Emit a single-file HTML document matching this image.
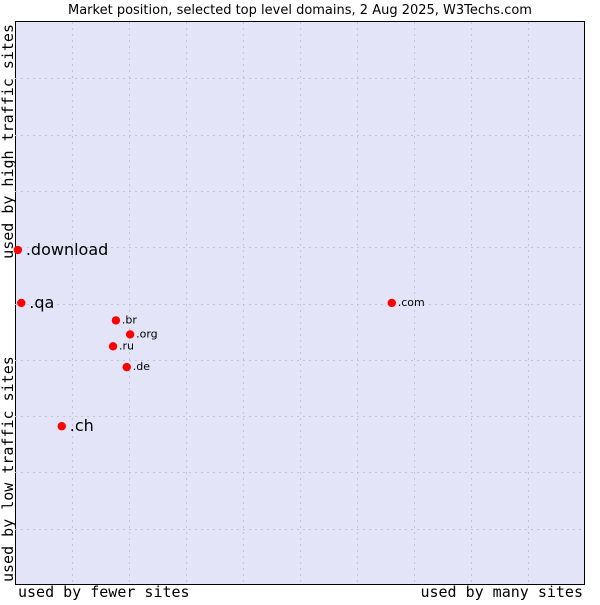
<!DOCTYPE html>
<html><head><meta charset="utf-8"><style>
body{margin:0;background:#fff;width:600px;height:600px;overflow:hidden}
svg text{font-family:"DejaVu Sans","Liberation Sans",sans-serif}
.mono{font-family:"DejaVu Sans Mono","Liberation Mono",monospace}
</style></head><body>
<svg id="chart" width="600" height="600" xmlns="http://www.w3.org/2000/svg">
<text x="300" y="14" font-size="13" text-anchor="middle" fill="#000">Market position, selected top level domains, 2 Aug 2025, W3Techs.com</text>
<rect x="15.5" y="21.5" width="569" height="563" fill="#e3e4f8" stroke="#000" stroke-width="1"/>
<g id="grid"></g>
<g id="points"></g>
<text class="mono" x="18" y="597" font-size="15">used by fewer sites</text>
<text class="mono" x="583" y="597" font-size="15" text-anchor="end">used by many sites</text>
<text class="mono" transform="translate(13,24) rotate(-90)" font-size="15" text-anchor="end">used by high traffic sites</text>
<text class="mono" transform="translate(13,582) rotate(-90)" font-size="15">used by low traffic sites</text>
</svg>
<script>
const domains = [".download", ".qa", ".ch", ".br", ".org", ".ru", ".de", ".com"];
const xValues = [0.5, 1.1, 8.2, 17.7, 20.2, 17.2, 19.6, 66.1];
const yValues = [59.5, 50.1, 28.2, 47.0, 44.5, 42.4, 38.7, 50.1];
const bigLabel = [true, true, true, false, false, false, false, false];
const gridSteps = [1,2,3,4,5,6,7,8,9];
const L=15, T=22, W=570, H=563;
const xs = v => L + v/100*W;
const ys = v => T + H - v/100*H;
const NS="http://www.w3.org/2000/svg";
const grid=document.getElementById('grid');
gridSteps.forEach(s=>{
  const v=document.createElementNS(NS,'line');
  
  
  const x=Math.round(xs(s*10))+0.5;
  v.setAttribute('x1',x);v.setAttribute('x2',x);v.setAttribute('y1',T);v.setAttribute('y2',T+H);
  v.setAttribute('stroke','#c4c4cc');v.setAttribute('stroke-dasharray','2,4');
  grid.appendChild(v);
  const h=document.createElementNS(NS,'line');
  
  
  const y=Math.round(ys(s*10))+0.5;
  h.setAttribute('x1',L);h.setAttribute('x2',L+W);h.setAttribute('y1',y);h.setAttribute('y2',y);
  h.setAttribute('stroke','#c4c4cc');h.setAttribute('stroke-dasharray','2,4');
  grid.appendChild(h);
});
const pts=document.getElementById('points');
domains.forEach((d,i)=>{
  const x=xs(xValues[i]), y=ys(yValues[i]);
  const c=document.createElementNS(NS,'circle');
  
  
  c.setAttribute('cx',x);c.setAttribute('cy',y);c.setAttribute('r',4.2);c.setAttribute('fill','#f00');
  pts.appendChild(c);
  const t=document.createElementNS(NS,'text');
  
  
  t.setAttribute('x',x+(bigLabel[i]?8:6));
  t.setAttribute('y',y+(bigLabel[i]?5:3));
  t.setAttribute('font-size',bigLabel[i]?16:11);
  t.textContent=d;
  pts.appendChild(t);
});
</script>
</body></html>
